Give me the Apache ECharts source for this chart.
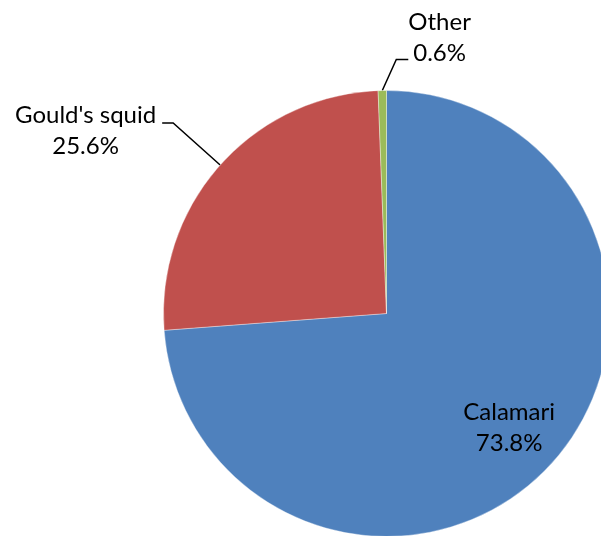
<!DOCTYPE html>
<html>
<head>
<meta charset="utf-8">
<script src="https://cdn.jsdelivr.net/npm/echarts@6/dist/echarts.min.js"></script>
<style>
  html, body { margin: 0; padding: 0; background: #fff; }
  #chart { width: 601px; height: 536px; }
</style>
</head>
<body>
<div id="chart"></div>
<script>
// Catch composition by species
const categories = ['Calamari', "Gould's squid", 'Other'];
const shares = [73.8, 25.6, 0.6];
const sliceColors = ['#4F81BD', '#C0504D', '#9BBB59'];

// Pie geometry (pixels)
const CX = 386.5, CY = 313.5, R = 223;

// Mid angle of every slice, clockwise from 12 o'clock, in radians
const total = shares.reduce((a, b) => a + b, 0);
const midAngles = [];
let run = 0;
shares.forEach(v => { midAngles.push((run + v / 2) / total * 2 * Math.PI); run += v; });
function polar(i, r) {
  const a = midAngles[i];
  return [CX + r * Math.sin(a), CY - r * Math.cos(a)];
}

// Place labels: big slice labelled inside, small slices get leader lines
function layoutLabel(p) {
  const i = p.dataIndex;
  const w = p.labelRect.width;
  if (i === 0) {
    const c = polar(0, R * 0.75);
    return { x: c[0], y: c[1] + 1, align: 'center', verticalAlign: 'middle' };
  }
  const p1 = polar(i, R);
  if (i === 1) {
    const p2 = polar(i, R + 63);
    const p3 = [p2[0] - 11, p2[1]];
    return { x: p3[0] - 6 - w / 2, y: p3[1] + 8, align: 'center', verticalAlign: 'middle',
             labelLinePoints: [p1, p2, p3] };
  }
  const p2 = [p1[0] + 14, p1[1] - 31];
  const p3 = [p2[0] + 12, p2[1]];
  return { x: p3[0] + w / 2, y: p3[1] - 22, align: 'center', verticalAlign: 'middle',
           labelLinePoints: [p1, p2, p3] };
}

const chart = echarts.init(document.getElementById('chart'), null, { renderer: 'canvas' });
chart.setOption({
  animation: false,
  backgroundColor: '#fff',
  series: [{
    type: 'pie',
    center: [CX, CY],
    radius: R,
    startAngle: 90,
    clockwise: true,
    avoidLabelOverlap: false,
    silent: true,
    itemStyle: { borderColor: 'rgba(255,255,255,0.6)', borderWidth: 0.6 },
    label: {
      show: true,
      position: 'outside',
      formatter: '{b}\n{c}%',
      fontFamily: 'Lato',
      fontSize: 24,
      lineHeight: 31,
      color: '#000',
      bleedMargin: 0
    },
    labelLine: {
      show: true,
      length: 63,
      length2: 11,
      lineStyle: { color: '#000', width: 1.5 }
    },
    labelLayout: layoutLabel,
    data: categories.map((name, i) => ({
      name: name,
      value: shares[i],
      itemStyle: { color: sliceColors[i] },
      label: i === 0 ? { position: 'inside' } : undefined,
      labelLine: i === 0 ? { show: false } : undefined
    }))
  }]
});
</script>
</body>
</html>
